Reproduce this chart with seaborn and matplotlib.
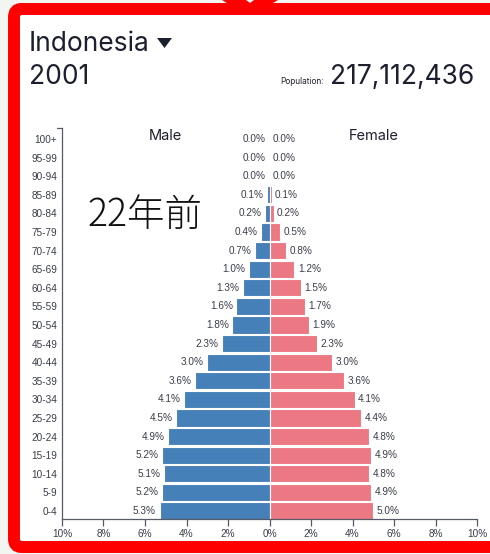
import matplotlib
matplotlib.use("Agg")
import matplotlib.pyplot as plt
import seaborn as sns
import pandas as pd
from matplotlib.patches import FancyBboxPatch, Polygon

ages = ["100+", "95-99", "90-94", "85-89", "80-84", "75-79", "70-74", "65-69",
        "60-64", "55-59", "50-54", "45-49", "40-44", "35-39", "30-34", "25-29",
        "20-24", "15-19", "10-14", "5-9", "0-4"]
male = [0.0, 0.0, 0.0, 0.1, 0.2, 0.4, 0.7, 1.0, 1.3, 1.6, 1.8, 2.3, 3.0, 3.6,
        4.1, 4.5, 4.9, 5.2, 5.1, 5.2, 5.3]
female = [0.0, 0.0, 0.0, 0.1, 0.2, 0.5, 0.8, 1.2, 1.5, 1.7, 1.9, 2.3, 3.0, 3.6,
          4.1, 4.4, 4.8, 4.9, 4.8, 4.9, 5.0]
xticks = [-10, -8, -6, -4, -2, 0, 2, 4, 6, 8, 10]
country = "Indonesia"
year = "2001"
population = "217,112,436"
note = "22年前"

sns.set_theme(style="white")
plt.rcParams['font.family'] = ['Inter', 'DejaVu Sans']

W, H = 490, 554
fig = plt.figure(figsize=(W / 100, H / 100), dpi=100)
fig.patch.set_facecolor('#f3f5f0')

def fx(px):
    return px / W

def fy(py):
    return 1 - py / H

# red frame
frame = FancyBboxPatch((fx(14), fy(547)), fx(600) - fx(14), fy(9) - fy(547),
                       boxstyle="round,pad=0,rounding_size=0.015",
                       transform=fig.transFigure, facecolor='white',
                       edgecolor='#ff0000', linewidth=8.6, zorder=0)
fig.add_artist(frame)
notch = Polygon([(fx(222), fy(0)), (fx(246), fy(0)), (fx(250), fy(3)),
                 (fx(254), fy(0)), (fx(278), fy(0)), (fx(268), fy(6)),
                 (fx(232), fy(6))], closed=True, transform=fig.transFigure,
                facecolor='#ff0000', edgecolor='none', zorder=1)
fig.add_artist(notch)

txtc = '#1c1f2e'
fig.text(fx(29), fy(51), country, fontsize=19, color=txtc, ha='left', va='baseline')
tri = Polygon([(fx(157), fy(38)), (fx(172), fy(38)), (fx(164.5), fy(48))],
              closed=True, transform=fig.transFigure, facecolor=txtc, edgecolor='none')
fig.add_artist(tri)
fig.text(fx(29), fy(84), year, fontsize=19, color=txtc, ha='left', va='baseline')
fig.text(fx(474), fy(84), population, fontsize=19, color=txtc, ha='right', va='baseline')
fig.text(fx(324), fy(84), "Population:", fontsize=6, color=txtc, ha='right', va='baseline')

ax = fig.add_axes([fx(62), fy(519), fx(477) - fx(62), fy(128) - fy(519)])
ax.set_facecolor('none')

df = pd.DataFrame({"age": ages, "male": [-v for v in male], "female": female})
blue = '#4680b8'
pink = '#ec7884'
sns.barplot(data=df, x="male", y="age", order=ages, orient='h', color=blue,
            saturation=1, width=0.93, edgecolor='white', linewidth=0.8, ax=ax)
sns.barplot(data=df, x="female", y="age", order=ages, orient='h', color=pink,
            saturation=1, width=0.93, edgecolor='white', linewidth=0.8, ax=ax)

small = ['Liberation Sans', 'DejaVu Sans']
lblc = '#3a3d4a'
for i, (m, f) in enumerate(zip(male, female)):
    ax.annotate(f"{m:.1f}%", (-m, i), xytext=(-2.5, 0), textcoords='offset points',
                ha='right', va='center', fontsize=7.2, color=lblc, family=small)
    ax.annotate(f"{f:.1f}%", (f, i), xytext=(2.5, 0), textcoords='offset points',
                ha='left', va='center', fontsize=7.2, color=lblc, family=small)

ax.set_xlim(-10, 10)
ax.set_ylim(20.43, -0.59)
ax.set_xticks(xticks)
ax.set_xticklabels([f"{abs(t)}%" for t in xticks])
ax.set_xlabel("")
ax.set_ylabel("")
for lab in ax.get_xticklabels() + ax.get_yticklabels():
    lab.set_family(small)
for s in ['top', 'right']:
    ax.spines[s].set_visible(False)
for s in ['left', 'bottom']:
    ax.spines[s].set_color('#555a66')
    ax.spines[s].set_linewidth(0.9)
ax.tick_params(axis='x', direction='out', length=5, width=0.9, color='#555a66',
               labelsize=7.2, labelcolor=lblc, pad=2, bottom=True)
ax.tick_params(axis='y', length=0, labelsize=7.2, labelcolor=lblc, pad=3.5)
# outer tick at top of y axis
ax.plot([-10.22, -10], [-0.59, -0.59], color='#555a66', lw=0.9, clip_on=False)

ax.text(-5, -0.15, "Male", fontsize=10.5, color=txtc, ha='center', va='center')
ax.text(5, -0.15, "Female", fontsize=10.5, color=txtc, ha='center', va='center')

fig.text(fx(87), fy(215), note, fontsize=27, color='#111111', ha='left', va='center',
         family=['Noto Sans CJK JP', 'DejaVu Sans'], fontweight='light')

fig.savefig("out.png", dpi=100, facecolor=fig.get_facecolor())
